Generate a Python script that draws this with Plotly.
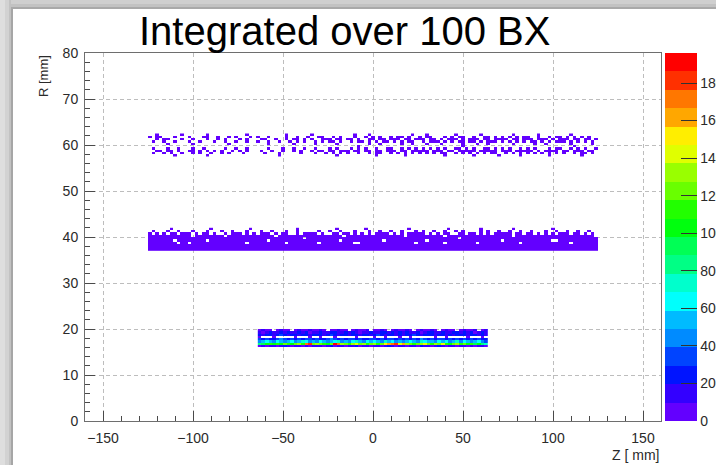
import colorsys
import plotly.graph_objects as go

# ---------------------------------------------------------------- text / axes
TITLE = "Integrated over 100 BX"
Z_LABEL = "Z [ mm]"
R_LABEL = "R [mm]"
Z_RANGE = [-160, 160]
R_RANGE = [0, 80]
Z_TICKS = [-150, -100, -50, 0, 50, 100, 150]
R_TICKS = [0, 10, 20, 30, 40, 50, 60, 70, 80]
COUNT_RANGE = [0, 196]
COUNT_TICKS = [0, 20, 40, 60, 80, 100, 120, 140, 160, 180]

# ---------------------------------------------------------------- hit maps
# One character per bin (2 mm in Z, 0.5 mm in R); the symbol gives the
# number of hits accumulated in that bin.
COUNT_OF = {
    ".": 0, "1": 1, "2": 2, "3": 3,
    "a": 15, "b": 25, "c": 35, "d": 45, "e": 55, "f": 65, "g": 75,
    "h": 85, "i": 95, "j": 105, "k": 115, "l": 125, "m": 135, "n": 145,
    "o": 155, "p": 165, "q": 175, "r": 185, "s": 193,
}
Z_BIN = 2.0
R_BIN = 0.5

# outer layer, R ~ 60 mm  (rows listed from the top, R = 62.5 -> 57.5)
LAYER60_Z = [-125, 125]
LAYER60_R = [57.5, 62.5]
LAYER60_ROWS = [
    "..1.. ....1 ..... .1... ..... ..1.. ..... ...1. ..... 1.... ..... ..1.. .1... ..... ...1. ..1.. ..... 1.... ..1.. ..... .1... ...1. ..... ..1.. .....",
    "1.11. ..1.. .1... 11..1 ..1.1 ...1. 1..1. ...1. .1..1 ..11. .1.1. ..1.. 1.1.1 ..1.1 1.1.. 1.11. ..1.1 .11.. 1..11 .1.1. 1.1.1 1..1. .1.11 .1.1. 1.1..",
    "..1.1 1...1 ..1.. .1..1 .1... 1.1.. .11.. 1..1. 11.1. 1..11 1.11. 11.1. .11.1 1.111 .11.1 11.11 .1.11 1.1.1 11.11 .1111 .11.1 11.11 1.1.1 11.11 .11.1",
    ".1..1 ..1.. .1..1 ...1. .1..1 ..1.. 1..1. .1..1 .1.1. .1.1. 11.1. .1.11 .1.1. 11.1. 1.11. .1.11 1.1.1 .11.1 1.1.1 11.1. 1.1.1 .11.1 .1.11 1.1.1 .1.1.",
    "..... 1.... ..1.. ..... ..1.. ..... ...1. ..... 1.... .1... ..1.. ..... .1..1 ..... 1..1. ..1.. .1... ..1.. .1..1 ..... .1... ..1.. 1.... ..1.. ...1.",
    "..... ..... ..... ..... ..... ..... ..... ..... ..... ..... ..... ...1. ..... ..... ..... ..... ..... ..1.. ..... ..... ..... ..... ..... ...1. .....",
    ".1... 1..1. ..1.. 1.... .1..1 ..1.. ...1. ..1.. 1..1. .1... 1.1.. .1.1. 1..1. .11.. 1.1.1 .1.1. 1.1.. 11.1. 1..11 .1.1. 1..1. 1.1.. .1.11 ..1.1 .1..1",
    "..11. 11.1. .11.1 .1.1. 1..1. 1.1.. .1..1 ..1.. 1.1.. 1.11. 11.11 1.11. 11.11 .111. 11.11 111.1 11.11 .1111 1.111 11.11 1.111 11.1. 1111. 11.11 1.11.",
    ".1..1 .1..1 ..1.1 ..1.. 1.1.. .1... ..1.. .1... ..1.. .1..1 .1.1. 1..1. .1.11 ..1.1 .1.1. 1.1.1 .11.. 1.1.1 .1.1. 11..1 .1.1. 1.1.1 .1.1. 1..1. 11.1.",
    "..... ..1.. ..... .1... ..... ..... ..... .1... ..... ..... ..1.. ..... ...1. ..... .1... ..... ..1.. ..... 1.... ..1.. ...1. ..... .1... ..... 1....",
]

# middle layer, R ~ 39 mm  (rows listed from the top, R = 42.0 -> 37.0)
LAYER40_Z = [-125, 125]
LAYER40_R = [37.0, 42.0]
LAYER40_ROWS = [
    "..... .1... ..... ..1.. ..... ...1. ..... ..... .1... ..... ..1.. ..... 1.... ..... ..1.. ..... ...1. ..... ..1.. ..... .1... ..... ..1.. ..... .....",
    ".1... 1..1. ..1.. .1... 1..1. ..1.. .1..1 ...1. .1... ..1.. 1..1. ..1.. .1..1 ..1.. 1...1 .1..1 ..1.. 1.1.. ..1.1 ..1.. 1..1. .1... 1..1. .1..1 ..1..",
    "1.1.1 .11.1 11.1. 11.1. .1.11 1.1.1 .111. 1.11. .1.11 11.1. .11.1 1.1.1 .1.11 11.1. 1.111 11.1. 1.11. .11.1 1.1.1 .1111 1.11. 11.1. 1.1.1 11.11 .1.1.",
    "11111 11111 11.11 11111 1.111 11111 11111 .1111 11111 11111 1111. 11111 11111 11111 1.111 11111 11.11 11111 11111 11111 1.111 11111 11111 11111 1111.",
    "11111 11111 11111 11111 11111 11111 11111 11111 111.1 11111 11111 11111 11111 11111 11111 11111 11111 1.111 11111 11111 11111 11111 11111 11111 11111",
    "11111 11.11 11111 1.111 11111 11111 111.1 11111 11111 11111 111.1 11111 11111 .1111 11111 11.11 11111 11111 11111 111.1 11111 11111 11..1 11111 11111",
    "11111 111.1 1.111 11111 11111 11.11 11111 111.1 11111 11.11 11111 11..1 11111 11111 1111. 11111 11.11 11111 1.111 11111 111.1 11111 11111 11.11 11111",
    "11111 11111 11111 11111 11111 11111 11111 11111 11111 11111 11111 11111 11111 11111 11111 11111 11111 11111 11111 11111 11111 11111 11111 11111 11111",
    "11111 11111 11111 11111 11111 11111 11111 11111 11111 11111 11111 11111 11111 11111 11111 11111 11111 11111 11111 11111 11111 11111 11111 11111 11111",
    "11111 11111 11111 11111 11111 11111 11111 11111 11111 11111 11111 11111 11111 11111 11111 11111 11111 11111 11111 11111 11111 11111 11111 11111 11111",
]

# inner layer, R ~ 18 mm  (rows listed from the top, R = 20.0 -> 16.0)
LAYER18_Z = [-64, 64]
LAYER18_R = [16.0, 20.0]
LAYER18_ROWS = [
    "2a13.2a1 3.2a13a2 1a3.21a3 2.1a32a. 13a2.1a3 2a1.3a21 a3.2a13. 2a13a.2a",
    "a3abaaba baabab3a abaabbaa baba3aab aabbabab abaab3ab baabaabb abab3aba",
    "babbabcb abbabbab bbabcbab babbabba bcbabbab abbcbabb babbabab bbabbaba",
    "1...1... ..1...1. .1...1.. ...1.... 1..1...1 ..1..... .1..1... ..1...1.",
    "cbcbbcdc bcbcbccb cbbcdcbc bccbcbbc cbcbccbc bcbcbdcb cbccbcbc bcbcbcbb",
    "defedfed efdegfde dfedefgd edfgedfe fedgefde defedgfe edfefdeg dfedefdc",
    "hijkjkjl kjlmkqrl mlkjlsqm lkmnlmkl mklopqrn pmlklmnl kmlnkjlm kljkijhg",
    "1a2aa1ab a1aa2a1a aa1ab1aa 1aab1aa1 aa1aba1a a1aa1baa 1aba1aa1 aa1a1aa2",
]

# ---------------------------------------------------------------- geometry
W, H = 716, 465
ML, MR, MT, MB = 85, 55, 53, 44
PW, PH = W - ML - MR, H - MT - MB


def px_x(px):
    return (px - ML) / PW


def px_y(py):
    return (H - MB - py) / PH


def layer_trace(rows, zlim, rlim):
    nz = int(round((zlim[1] - zlim[0]) / Z_BIN))
    cells = []
    for row in rows:
        row = row.replace(" ", "")
        row = (row + "." * nz)[:nz]
        cells.append([COUNT_OF[c] if COUNT_OF[c] > 0 else None for c in row])
    cells = cells[::-1]  # bottom row first
    x = [zlim[0] + Z_BIN * (i + 0.5) for i in range(nz)]
    y = [rlim[0] + R_BIN * (j + 0.5) for j in range(len(cells))]
    return go.Heatmap(x=x, y=y, z=cells, coloraxis="coloraxis",
                      zsmooth=False, hoverongaps=False)


# ROOT-style "pretty palette" (HLS hue 280 -> 0), 20 contour bands
N_BANDS = 20
colorscale = []
for k in range(N_BANDS):
    ci = int((k + 0.99) * 50 / N_BANDS)
    hue = 280.0 - (ci + 1) * 280.0 / 50
    r, g, b = colorsys.hls_to_rgb(hue / 360.0, 0.5, 1.0)
    col = "rgb(%d,%d,%d)" % (round(r * 255), round(g * 255), round(b * 255))
    colorscale.append([k / N_BANDS, col])
    colorscale.append([(k + 1) / N_BANDS, col])

fig = go.Figure()
fig.add_trace(layer_trace(LAYER60_ROWS, LAYER60_Z, LAYER60_R))
fig.add_trace(layer_trace(LAYER40_ROWS, LAYER40_Z, LAYER40_R))
fig.add_trace(layer_trace(LAYER18_ROWS, LAYER18_Z, LAYER18_R))

FONT = "Liberation Sans, Arial, Helvetica, sans-serif"
TICK_FONT = dict(family=FONT, size=14, color="#2a2a2a")
FRAME = "#6e6e6e"
GRID = "#bdbdbd"

axis_common = dict(
    showline=True, linecolor=FRAME, linewidth=1, mirror=True,
    ticks="inside", tickcolor="#4a4a4a", tickwidth=1,
    showgrid=True, gridcolor=GRID, gridwidth=1, griddash="4px,3px",
    zeroline=False, tickfont=TICK_FONT, fixedrange=True,
)

fig.update_xaxes(range=Z_RANGE, tickvals=Z_TICKS, ticklen=10,
                 minor=dict(dtick=10, tick0=0, ticklen=5, ticks="inside",
                            tickcolor="#4a4a4a", showgrid=False),
                 ticklabelstandoff=4, **axis_common)
fig.update_yaxes(range=R_RANGE, tickvals=R_TICKS, ticklen=10,
                 minor=dict(dtick=2, tick0=0, ticklen=5, ticks="inside",
                            tickcolor="#4a4a4a", showgrid=False),
                 ticklabelstandoff=3, **axis_common)

# window shadow along the top and left edges
shapes = []
for x0, x1, c in [(0, 5, "#dedede"), (5, 9, "#d2d2d2"), (9, 11, "#c2c2c2"), (11, 13, "#a6a6a6")]:
    shapes.append(dict(type="rect", xref="paper", yref="paper", layer="below",
                       x0=px_x(x0), x1=px_x(x1), y0=px_y(H), y1=px_y(0),
                       fillcolor=c, line=dict(width=0)))
for y0, y1, c in [(0, 4, "#cfcfcf"), (4, 7, "#c2c2c2"), (7, 9, "#a9a9a9")]:
    shapes.append(dict(type="rect", xref="paper", yref="paper", layer="below",
                       x0=px_x(11), x1=px_x(W), y0=px_y(y1), y1=px_y(y0),
                       fillcolor=c, line=dict(width=0)))

annotations = [
    dict(text=TITLE, xref="paper", yref="paper", x=px_x(344), y=px_y(31),
         xanchor="center", yanchor="middle", showarrow=False,
         font=dict(family=FONT, size=40, color="#000000")),
    dict(text=Z_LABEL, xref="paper", yref="paper", x=px_x(661), y=px_y(455),
         xanchor="right", yanchor="middle", showarrow=False,
         font=dict(family=FONT, size=14, color="#2a2a2a")),
    dict(text=R_LABEL, xref="paper", yref="paper", x=px_x(43), y=px_y(53),
         xanchor="center", yanchor="top", textangle=-90, showarrow=False,
         font=dict(family=FONT, size=13, color="#2a2a2a")),
]

fig.update_layout(
    width=W, height=H,
    margin=dict(l=ML, r=MR, t=MT, b=MB, pad=0, autoexpand=False),
    paper_bgcolor="white", plot_bgcolor="white",
    showlegend=False,
    coloraxis=dict(
        cmin=COUNT_RANGE[0], cmax=COUNT_RANGE[1], colorscale=colorscale,
        colorbar=dict(
            x=px_x(665), xanchor="left", y=0, yanchor="bottom",
            len=1, lenmode="fraction", thickness=32, thicknessmode="pixels",
            xpad=0, ypad=0, outlinewidth=0,
            tickmode="array", tickvals=COUNT_TICKS,
            ticks="inside", ticklen=16, tickcolor="#333333", tickwidth=1,
            tickfont=TICK_FONT,
        ),
    ),
    shapes=shapes,
    annotations=annotations,
)

fig.write_html("out.html")
